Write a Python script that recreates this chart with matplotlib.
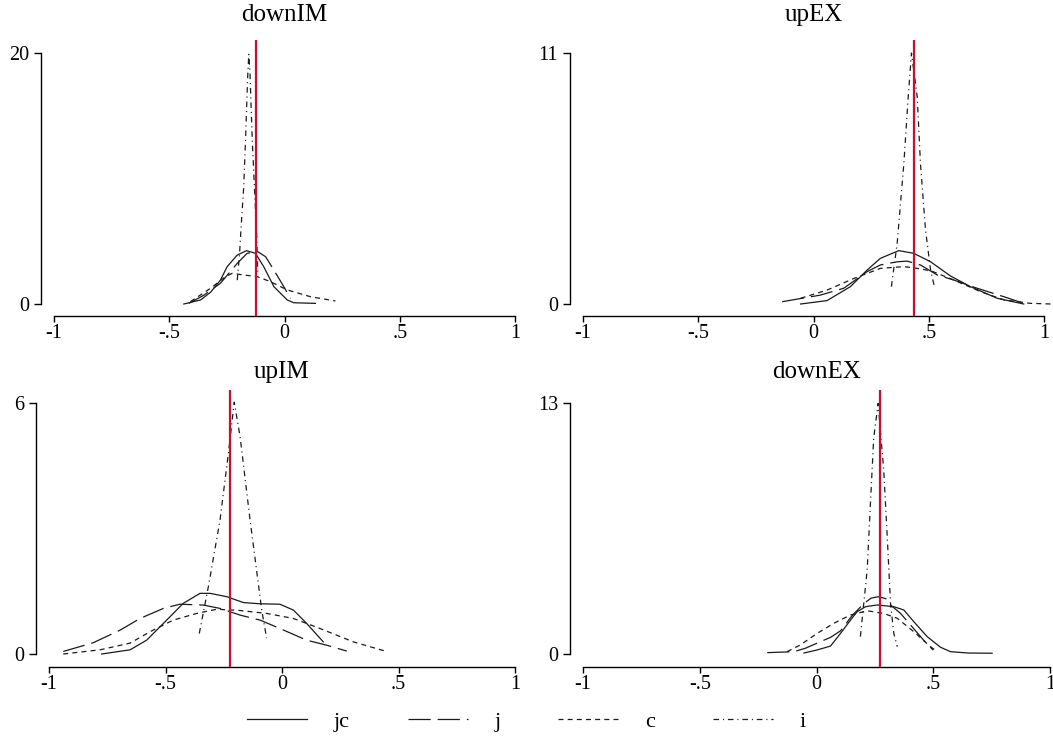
import matplotlib
matplotlib.use("Agg")
import matplotlib.pyplot as plt
from matplotlib.lines import Line2D

plt.rcParams['font.family'] = ['Liberation Serif', 'DejaVu Serif']
plt.rcParams['lines.scale_dashes'] = False

# ---------------- data ----------------
titles = ["downIM", "upEX", "upIM", "downEX"]
ymax_vals = [20, 11, 6, 13]
red_vals = [-0.123, 0.435, -0.223, 0.27]
xticks = [-1, -0.5, 0, 0.5, 1]
xtick_labels = ["-1", "-.5", "0", ".5", "1"]
series_names = ["jc", "j", "c", "i"]

dIM_jc_x = [-0.437, -0.364, -0.32, -0.278, -0.249, -0.205, -0.165, -0.126, -0.09, -0.046, 0.012, 0.04, 0.134]
dIM_jc_y = [0, 0.32, 0.95, 1.9, 2.97, 3.9, 4.25, 4.04, 2.97, 1.38, 0.32, 0.1, 0.05]
dIM_j_x = [-0.415, -0.35, -0.278, -0.205, -0.162, -0.116, -0.082, -0.046, -0.003, 0.026]
dIM_j_y = [0.05, 0.7, 1.65, 3.24, 4.04, 4.17, 3.77, 2.7, 1.38, 0.45]
dIM_c_x = [-0.408, -0.321, -0.256, -0.227, -0.176, -0.118, -0.061, 0.012, 0.113, 0.221]
dIM_c_y = [0.19, 1.25, 2.18, 2.44, 2.31, 2.18, 1.78, 1.12, 0.58, 0.24]
dIM_i_x = [-0.205, -0.195, -0.188, -0.177, -0.169, -0.160, -0.155, -0.150, -0.140, -0.130, -0.121, -0.116]
dIM_i_y = [1.9, 4.0, 6.2, 9.3, 13.1, 18.0, 19.9, 18.5, 13.1, 9.1, 5.6, 2.4]

uEX_jc_x = [-0.056, 0.059, 0.16, 0.233, 0.29, 0.37, 0.435, 0.508, 0.594, 0.681, 0.797, 0.912]
uEX_jc_y = [0, 0.15, 0.76, 1.49, 2.0, 2.34, 2.22, 1.85, 1.23, 0.76, 0.25, 0]
uEX_j_x = [-0.136, 0.03, 0.131, 0.233, 0.29, 0.363, 0.406, 0.464, 0.537, 0.609, 0.71, 0.826, 0.92]
uEX_j_y = [0.1, 0.39, 0.69, 1.42, 1.71, 1.85, 1.88, 1.71, 1.27, 1.05, 0.69, 0.32, 0]
uEX_c_x = [-0.056, 0.059, 0.175, 0.29, 0.392, 0.45, 0.508, 0.609, 0.725, 0.826, 0.94, 1.03]
uEX_c_y = [0.25, 0.61, 1.12, 1.56, 1.64, 1.56, 1.46, 1.05, 0.54, 0.18, 0.03, 0]
uEX_i_x = [0.338, 0.363, 0.392, 0.411, 0.425, 0.45, 0.464, 0.486, 0.508, 0.526]
uEX_i_y = [0.76, 2.66, 6.16, 9.08, 11.0, 9.08, 6.16, 3.24, 1.49, 0.69]

uIM_jc_x = [-0.774, -0.652, -0.581, -0.495, -0.424, -0.352, -0.309, -0.237, -0.166, -0.094, -0.009, 0.049, 0.106, 0.177]
uIM_jc_y = [0, 0.1, 0.33, 0.81, 1.21, 1.45, 1.45, 1.37, 1.23, 1.2, 1.19, 1.05, 0.73, 0.29]
uIM_j_x = [-0.939, -0.81, -0.695, -0.609, -0.509, -0.438, -0.338, -0.266, -0.18, -0.094, -0.009, 0.106, 0.192, 0.278]
uIM_j_y = [0.06, 0.27, 0.57, 0.85, 1.09, 1.19, 1.17, 1.09, 0.93, 0.81, 0.61, 0.33, 0.21, 0.07]
uIM_c_x = [-0.939, -0.781, -0.652, -0.567, -0.467, -0.366, -0.28, -0.18, -0.066, 0.049, 0.163, 0.306, 0.449]
uIM_c_y = [0, 0.1, 0.26, 0.53, 0.81, 0.97, 1.07, 1.04, 0.97, 0.85, 0.61, 0.29, 0.06]
uIM_i_x = [-0.355, -0.316, -0.266, -0.23, -0.205, -0.18, -0.137, -0.109, -0.087, -0.066]
uIM_i_y = [0.49, 1.61, 3.2, 4.8, 6.02, 5.2, 3.2, 2.0, 1.05, 0.38]

dEX_jc_x = [-0.054, 0.003, 0.06, 0.103, 0.146, 0.174, 0.21, 0.26, 0.331, 0.374, 0.417, 0.474, 0.531, 0.574, 0.65, 0.752]
dEX_jc_y = [0.05, 0.21, 0.41, 1.07, 1.76, 2.19, 2.45, 2.54, 2.45, 2.28, 1.67, 0.9, 0.35, 0.12, 0.05, 0.04]
dEX_j_x = [-0.211, -0.097, -0.047, 0.017, 0.06, 0.103, 0.15, 0.203, 0.235, 0.267, 0.3, 0.317, 0.36, 0.41, 0.46, 0.50]
dEX_j_y = [0.07, 0.12, 0.3, 0.64, 0.86, 1.2, 1.95, 2.62, 2.9, 2.97, 2.85, 2.54, 2.1, 1.4, 0.7, 0.2]
dEX_c_x = [-0.126, -0.069, 0.003, 0.074, 0.146, 0.217, 0.288, 0.346, 0.417, 0.488, 0.517]
dEX_c_y = [0.12, 0.47, 1.07, 1.59, 2.02, 2.24, 2.1, 1.85, 1.15, 0.38, 0.12]
dEX_i_x = [0.188, 0.217, 0.231, 0.245, 0.264, 0.288, 0.303, 0.317, 0.331, 0.346]
dEX_i_y = [0.9, 4.35, 7.8, 11.2, 12.98, 9.5, 6.07, 2.62, 1.07, 0.38]

panel_series = [
    [(dIM_jc_x, dIM_jc_y), (dIM_j_x, dIM_j_y), (dIM_c_x, dIM_c_y), (dIM_i_x, dIM_i_y)],
    [(uEX_jc_x, uEX_jc_y), (uEX_j_x, uEX_j_y), (uEX_c_x, uEX_c_y), (uEX_i_x, uEX_i_y)],
    [(uIM_jc_x, uIM_jc_y), (uIM_j_x, uIM_j_y), (uIM_c_x, uIM_c_y), (uIM_i_x, uIM_i_y)],
    [(dEX_jc_x, dEX_jc_y), (dEX_j_x, dEX_j_y), (dEX_c_x, dEX_c_y), (dEX_i_x, dEX_i_y)],
]

# ---------------- styling ----------------
W, H = 1053, 755
DPI = 100
line_color = "#1a1a1a"
red = "#c8102e"
styles = [
    dict(linestyle="-"),
    dict(dashes=(16, 5)),
    dict(dashes=(3.6, 3.0)),
    dict(dashes=(4.0, 2.8, 0.8, 2.8)),
]
# axes boxes in pixels: left, right, top, bottom (bottom = x-axis line)
boxes = [(54, 515, 40, 316), (583, 1044, 40, 316), (49, 515, 390, 667), (583, 1050, 390, 667)]
zero_px = [304, 304, 654, 654]
max_px = [53, 53, 403, 403]
title_pads = [13.7, 13.7, 8.6, 8.6]

fig = plt.figure(figsize=(W / DPI, H / DPI), dpi=DPI)

for k in range(4):
    l, r, t, b = boxes[k]
    ax = fig.add_axes([l / W, 1 - b / H, (r - l) / W, (b - t) / H])
    ymax = ymax_vals[k]
    ppu = (zero_px[k] - max_px[k]) / ymax
    ylo = -(b - zero_px[k]) / ppu
    yhi = ymax + (max_px[k] - t) / ppu
    ax.set_xlim(-1, 1)
    ax.set_ylim(ylo, yhi)

    for (xs, ys), st in zip(panel_series[k], styles):
        ax.plot(xs, ys, color=line_color, lw=0.9, clip_on=False, **st)
    ax.axvline(red_vals[k], color=red, lw=1.6, zorder=5)

    for s in ["top", "right"]:
        ax.spines[s].set_visible(False)
    ax.spines["left"].set_position(("outward", 9.4))
    ax.spines["left"].set_bounds(0, ymax)
    ax.spines["bottom"].set_bounds(-1, 1)
    for s in ["left", "bottom"]:
        ax.spines[s].set_linewidth(1.0)
        ax.spines[s].set_color("black")

    ax.set_yticks([0, ymax])
    ax.set_yticklabels(["0", str(ymax)])
    ax.set_xticks(xticks)
    ax.set_xticklabels(xtick_labels)
    ax.tick_params(axis="y", direction="out", length=5, width=1.0, labelsize=14.5, pad=3.5)
    ax.tick_params(axis="x", direction="out", length=4.5, width=1.0, labelsize=14.5, pad=1)
    ax.set_title(titles[k], fontsize=18, pad=title_pads[k])
    ax.patch.set_visible(False)

handles = [Line2D([0], [0], color=line_color, lw=0.9, **st) for st in styles]
fig.legend(handles, series_names, loc="center", bbox_to_anchor=(0.5, 1 - 722 / H),
           ncol=4, frameon=False, fontsize=16, handlelength=2.7, columnspacing=2.6,
           handletextpad=1.2)

fig.savefig("out.png", dpi=DPI, facecolor="white")
